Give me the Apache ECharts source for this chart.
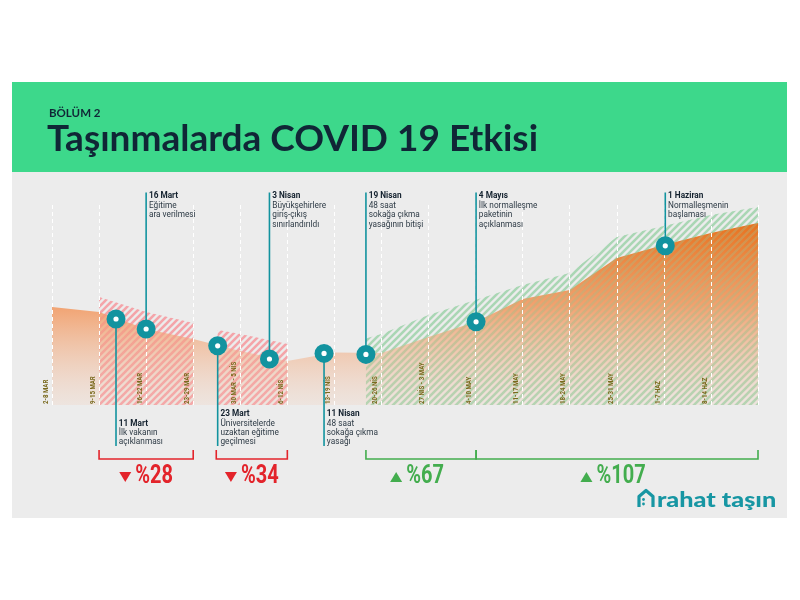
<!DOCTYPE html>
<html><head><meta charset="utf-8">
<script src="https://cdn.jsdelivr.net/npm/echarts/dist/echarts.min.js"></script>
<style>html,body{margin:0;padding:0;background:#fff}#c{width:800px;height:600px}</style>
</head><body><div id="c"></div>
<script>
// ---- data ----
const weeks = ['2-8 MAR','9-15 MAR','16-22 MAR','23-29 MAR','30 MAR - 5 NİS','6-12 NİS','13-19 NİS','20-26 NİS','27 NİS - 3 MAY','4-10 MAY','11-17 MAY','18-24 MAY','25-31 MAY','1-7 HAZ','8-14 HAZ'];
const moves = [49, 46.5, 38, 33, 27, 22, 26.3, 26, 34, 41.5, 53, 57.5, 73.5, 80, 86, 91];
const redHatch1X = [1, 2, 3];
const redHatch1Y = [54, 46.5, 41];
const redHatch2X = [3.52, 4, 5];
const redHatch2Y = [37.5, 35.5, 30.5];
const greenHatchX = [6.67, 7, 8, 9, 10, 11, 12, 13, 14, 15];
const greenHatchY = [33.3, 35.5, 45, 52.5, 60, 66, 84, 89.5, 95, 99];
const eventX = [1.36, 2.0, 3.52, 4.62, 5.78, 6.67, 9.01, 13.03];
const eventY = [43, 38, 29.6, 23, 25.8, 25.3, 41.6, 79.6];
const eventDates = ['11 Mart','16 Mart','23 Mart','3 Nisan','11 Nisan','19 Nisan','4 Mayıs','1 Haziran'];
const eventTexts = [['İlk vakanın','açıklanması'],['Eğitime','ara verilmesi'],['Üniversitelerde','uzaktan eğitime','geçilmesi'],['Büyükşehirlere','giriş-çıkış','sınırlandırıldı'],['48 saat','sokağa çıkma','yasağı'],['48 saat','sokağa çıkma','yasağının bitişi'],['İlk normalleşme','paketinin','açıklanması'],['Normalleşmenin','başlaması']];
const eventSide = ['below','above','below','above','below','above','above','above'];
const bracketStart = [1, 3.49, 6.67, 9.01];
const bracketEnd = [3, 5, 9.01, 15];
const bracketLabels = ['%28','%34','%67','%107'];
const bracketTrend = ['down','down','up','up'];

// ---- styles ----
const TEAL = '#12939f';
const RED = '#e3242b';
const GREEN = '#43ad4e';

function stripes(color) {
  const s = 7;
  const c = document.createElement('canvas');
  c.width = s; c.height = s;
  const g = c.getContext('2d');
  g.strokeStyle = color; g.lineWidth = 2.4;
  g.beginPath();
  g.moveTo(0, s); g.lineTo(s, 0);
  g.moveTo(-1, 1); g.lineTo(1, -1);
  g.moveTo(s - 1, s + 1); g.lineTo(s + 1, s - 1);
  g.stroke();
  return c;
}
const measureCtx = document.createElement('canvas').getContext('2d');
function textW(t, font) { measureCtx.font = font; return measureCtx.measureText(t).width; }

const chart = echarts.init(document.getElementById('c'));

const hatchSeries = (xs, ys, col, z, op) => ({
  type: 'line', data: xs.map((x, i) => [x, ys[i]]), symbol: 'none', silent: true,
  lineStyle: { opacity: 0 }, z: z,
  areaStyle: { color: { image: stripes(col), repeat: 'repeat' }, opacity: op }
});
const RED_STRIPE = 'rgba(245,158,164,0.9)';
const GREEN_STRIPE = 'rgba(165,213,176,0.9)';

const option = {
  backgroundColor: '#ffffff',
  animation: false,
  title: [
    { text: 'BÖLÜM 2', left: 44, top: 102, textStyle: { fontFamily: 'Lato', fontWeight: 'bold', fontSize: 11.5, color: '#102636' } },
    { text: 'Taşınmalarda COVID 19 Etkisi', left: 42, top: 116, textStyle: { fontFamily: 'Lato', fontWeight: 'bold', fontSize: 37, color: '#102636' } }
  ],
  graphic: [
    { type: 'rect', z: -10, shape: { x: 12, y: 82, width: 775, height: 90 }, style: { fill: '#3dd88b' } },
    { type: 'rect', z: -10, shape: { x: 12, y: 172, width: 775, height: 346 }, style: { fill: '#ececec' } },
    { type: 'group', z: 20, children: [
      { type: 'polyline', shape: { points: [[639, 507], [639, 496.5], [646, 490.5], [653, 496.5], [653, 507]] }, style: { stroke: '#1796a3', lineWidth: 3.2, fill: null, lineJoin: 'round' } },
      { type: 'circle', shape: { cx: 643.5, cy: 499.5, r: 1.4 }, style: { fill: '#1796a3' } },
      { type: 'circle', shape: { cx: 643.5, cy: 504, r: 1.4 }, style: { fill: '#1796a3' } },
      { type: 'text', x: 657, y: 500, scaleX: 1.2, style: { text: 'rahat taşın', fontFamily: 'Lato', fontWeight: 900, fontSize: 21, fill: '#1796a3', align: 'left', verticalAlign: 'middle' } }
    ] }
  ],
  grid: { left: 52, right: 42, top: 205, bottom: 195 },
  xAxis: {
    type: 'value', min: 0, max: 15, interval: 1, z: 4,
    axisLine: { show: false }, axisTick: { show: false }, axisLabel: { show: false },
    splitLine: { show: true, lineStyle: { color: '#ffffff', type: [4, 3], width: 1 } }
  },
  yAxis: { type: 'value', min: 0, max: 100, show: false },
  series: [
    hatchSeries(redHatch1X, redHatch1Y, RED_STRIPE, 1, 1),
    hatchSeries(redHatch2X, redHatch2Y, RED_STRIPE, 1, 1),
    hatchSeries(greenHatchX, greenHatchY, GREEN_STRIPE, 1, 1),
    {
      type: 'line', data: moves.map((v, i) => [i, v]), symbol: 'none', silent: true, z: 2,
      lineStyle: { opacity: 0 },
      areaStyle: { opacity: 1, color: { type: 'linear', x: 0, y: 0, x2: 0, y2: 1, colorStops: [
        { offset: 0, color: 'rgba(232,106,16,0.94)' },
        { offset: 0.45, color: 'rgba(243,143,80,0.8)' },
        { offset: 1, color: 'rgba(242,200,175,0.22)' } ] } }
    },
    hatchSeries(redHatch1X, redHatch1Y, RED_STRIPE, 3, 0.35),
    hatchSeries(redHatch2X, redHatch2Y, RED_STRIPE, 3, 0.35),
    hatchSeries(greenHatchX, greenHatchY, GREEN_STRIPE, 3, 0.3),
    {
      type: 'custom', z: 6, silent: true,
      data: weeks.map((w, i) => [i, 0]),
      renderItem: (params, api) => {
        const p = api.coord([api.value(0), 0]);
        return { type: 'text', x: p[0] - 6, y: p[1] - 1, rotation: Math.PI / 2, scaleX: 0.87,
          style: { text: weeks[params.dataIndex], fontFamily: 'Roboto', fontWeight: 'bold', fontSize: 7, fill: '#7a6a1e', align: 'left', verticalAlign: 'middle' } };
      }
    },
    {
      type: 'custom', z: 10, silent: true,
      data: eventX.map((x, i) => [x, eventY[i]]),
      renderItem: (params, api) => {
        const i = params.dataIndex;
        const cs = params.coordSys;
        const p = api.coord([api.value(0), api.value(1)]);
        const above = eventSide[i] === 'above';
        const lines = [eventDates[i]].concat(eventTexts[i]);
        const lh = 9.4;
        const endY = above ? cs.y - 12.5 : cs.y + cs.height + 41;
        const children = [
          { type: 'line', shape: { x1: p[0], y1: p[1], x2: p[0], y2: endY }, style: { stroke: TEAL, lineWidth: 1.6 } }
        ];
        lines.forEach((t, k) => {
          const cy = above ? endY + 3.5 + k * lh : endY - 4 - (lines.length - 1 - k) * lh;
          children.push({ type: 'text', x: p[0] + 2.8, y: cy, scaleX: 0.86,
            style: { text: t, fontFamily: 'Roboto', fontWeight: k === 0 ? 'bold' : 'normal', fontSize: 9.6, fill: k === 0 ? '#13212e' : '#2d3a45', align: 'left', verticalAlign: 'middle' } });
        });
        children.push({ type: 'circle', shape: { cx: p[0], cy: p[1], r: 9.5 }, style: { fill: TEAL } });
        children.push({ type: 'circle', shape: { cx: p[0], cy: p[1], r: 2.6 }, style: { fill: '#ffffff' } });
        return { type: 'group', children };
      }
    },
    {
      type: 'custom', z: 10, silent: true,
      data: bracketStart.map((s, i) => [s, bracketEnd[i]]),
      renderItem: (params, api) => {
        const i = params.dataIndex;
        const a = api.coord([api.value(0), 0]);
        const b = api.coord([api.value(1), 0]);
        const up = bracketTrend[i] === 'up';
        const col = up ? GREEN : RED;
        const y0 = a[1] + 45, y1 = a[1] + 54, ty = a[1] + 72;
        const font = 'bold 25px Roboto';
        const sx = 0.8;
        const w = textW(bracketLabels[i], font) * sx;
        const total = 12 + 4 + w;
        const cx = (a[0] + b[0]) / 2 - (up ? 4 : 0);
        const left = cx - total / 2;
        const tri = up
          ? [[left, ty + 5], [left + 12, ty + 5], [left + 6, ty - 5]]
          : [[left, ty - 5], [left + 12, ty - 5], [left + 6, ty + 5]];
        return { type: 'group', children: [
          { type: 'polyline', shape: { points: [[a[0], y0], [a[0], y1], [b[0], y1], [b[0], y0]] }, style: { stroke: col, lineWidth: 1.6, fill: null } },
          { type: 'polygon', shape: { points: tri }, style: { fill: col } },
          { type: 'text', x: left + 16, y: ty, scaleX: sx, style: { text: bracketLabels[i], fontFamily: 'Roboto', fontWeight: 'bold', fontSize: 25, fill: col, align: 'left', verticalAlign: 'middle' } }
        ] };
      }
    }
  ]
};
chart.setOption(option);
</script></body></html>
